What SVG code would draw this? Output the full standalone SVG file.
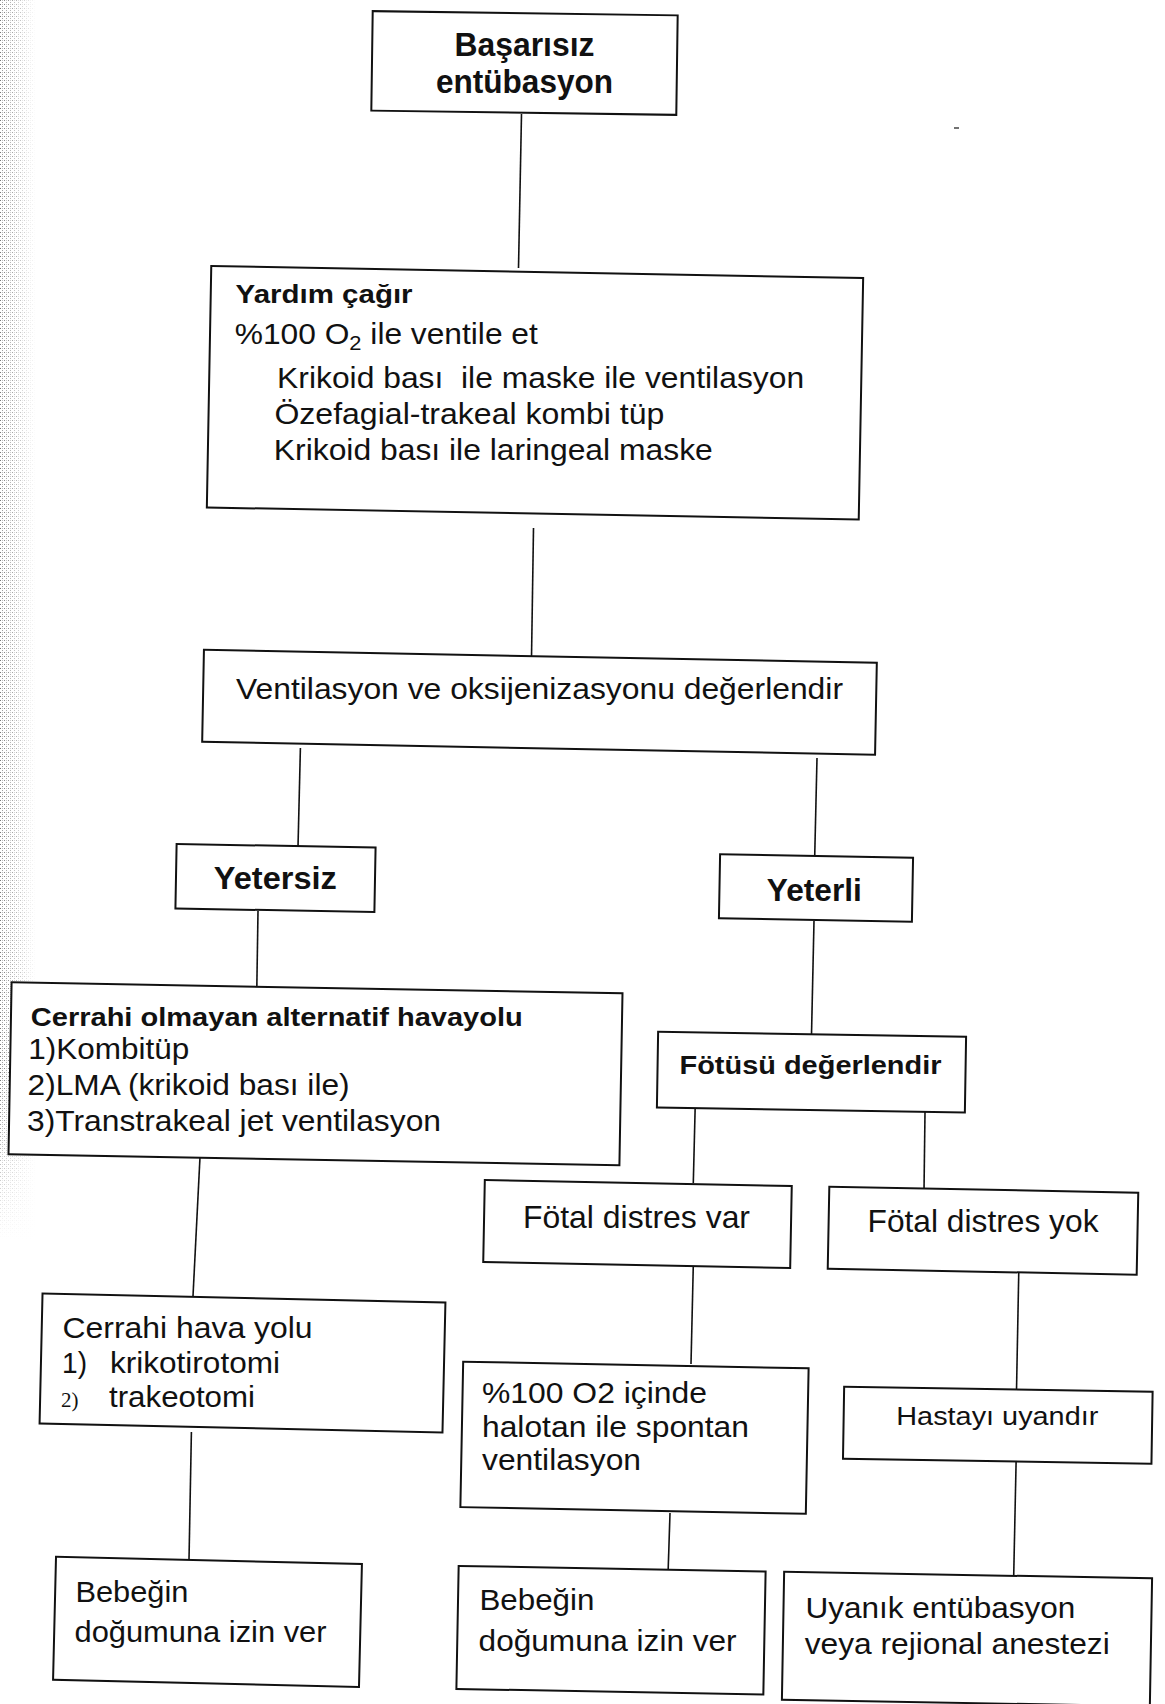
<svg xmlns="http://www.w3.org/2000/svg" width="1165" height="1704" viewBox="0 0 1165 1704">
<style>
.box{fill:#fff;stroke:#111;stroke-width:2}
.t{font-family:"Liberation Sans",Arial,sans-serif;fill:#111}
.b{font-weight:bold}
.s{font-family:"Liberation Serif","Times New Roman",serif;fill:#111}
.c line{stroke:#111;stroke-width:1.6;fill:none}
</style>
<defs>
<pattern id="stip" width="4" height="4" patternUnits="userSpaceOnUse">
<rect x="0" y="0" width="1" height="1" fill="#777"/>
<rect x="2" y="2" width="1" height="1" fill="#999"/>
<rect x="2" y="0" width="1" height="1" fill="#bbb"/>
</pattern>
<linearGradient id="fadeX" x1="0" y1="0" x2="1" y2="0">
<stop offset="0" stop-color="#fff" stop-opacity="0"/>
<stop offset="1" stop-color="#fff" stop-opacity="1"/>
</linearGradient>
<linearGradient id="fadeY" x1="0" y1="0" x2="0" y2="1">
<stop offset="0" stop-color="#fff" stop-opacity="0"/>
<stop offset="1" stop-color="#fff" stop-opacity="1"/>
</linearGradient>
</defs>
<rect width="1165" height="1704" fill="#fff"/>
<g id="scan-edge">
<rect x="0" y="0" width="36" height="1240" fill="url(#stip)"/>
<rect x="0" y="0" width="36" height="1240" fill="url(#fadeX)"/>
<rect x="0" y="1080" width="36" height="160" fill="url(#fadeY)"/>
<line x1="954" y1="128" x2="959" y2="128" stroke="#444" stroke-width="1.5"/>
</g>
<g id="connectors" class="c">
<line x1="521.5" y1="114" x2="518.5" y2="268"/>
<line x1="533.5" y1="528" x2="531.5" y2="658"/>
<line x1="300.4" y1="748" x2="298" y2="847"/>
<line x1="817" y1="758" x2="814.7" y2="857"/>
<line x1="258" y1="911" x2="256.8" y2="989"/>
<line x1="814" y1="921" x2="811.5" y2="1035"/>
<line x1="695.2" y1="1106" x2="693.3" y2="1183"/>
<line x1="925" y1="1112" x2="924" y2="1191"/>
<line x1="200" y1="1157" x2="193" y2="1296"/>
<line x1="693.3" y1="1265" x2="691" y2="1364"/>
<line x1="1018.8" y1="1270" x2="1016.5" y2="1391"/>
<line x1="191.4" y1="1432" x2="189" y2="1560"/>
<line x1="670" y1="1513" x2="668.2" y2="1569"/>
<line x1="1016.2" y1="1457" x2="1013.7" y2="1576"/>
</g>
<g id="n-basarisiz">
<rect class="box" x="372" y="13.25" width="305" height="99.5" transform="rotate(0.8 524.5 63)"/>
<text class="t b" x="524.5" y="56" font-size="32.5" text-anchor="middle" textLength="140" lengthAdjust="spacingAndGlyphs">Başarısız</text>
<text class="t b" x="524.5" y="93" font-size="32.5" text-anchor="middle" textLength="177" lengthAdjust="spacingAndGlyphs">entübasyon</text>
</g>
<g id="n-yardim">
<rect class="box" x="209" y="272" width="652" height="241.5" transform="rotate(1.05 535 392.75)"/>
<text class="t b" x="235.6" y="303.1" font-size="26" textLength="177" lengthAdjust="spacingAndGlyphs">Yardım çağır</text>
<text class="t" x="234.8" y="344.3" font-size="29" textLength="303" lengthAdjust="spacingAndGlyphs">%100 O<tspan font-size="20" dy="6">2</tspan><tspan dy="-6"> ile ventile et</tspan></text>
<text class="t" x="277.1" y="388.1" font-size="29" textLength="527" lengthAdjust="spacingAndGlyphs">Krikoid bası&#160; ile maske ile ventilasyon</text>
<text class="t" x="274.4" y="423.8" font-size="29" textLength="390" lengthAdjust="spacingAndGlyphs">Özefagial-trakeal kombi tüp</text>
<text class="t" x="273.8" y="460.3" font-size="29" textLength="439" lengthAdjust="spacingAndGlyphs">Krikoid bası ile laringeal maske</text>
</g>
<g id="n-ventilasyon">
<rect class="box" x="203" y="656.25" width="673" height="92" transform="rotate(1.1 539.5 702.25)"/>
<text class="t" x="236" y="699" font-size="30" textLength="607" lengthAdjust="spacingAndGlyphs">Ventilasyon ve oksijenizasyonu değerlendir</text>
</g>
<g id="n-yetersiz">
<rect class="box" x="176" y="845.75" width="199" height="64.5" transform="rotate(1.06 275.5 878)"/>
<text class="t b" x="275.3" y="889" font-size="32" text-anchor="middle" textLength="123" lengthAdjust="spacingAndGlyphs">Yetersiz</text>
</g>
<g id="n-yeterli">
<rect class="box" x="719.5" y="856" width="193" height="64" transform="rotate(1.04 816 888)"/>
<text class="t b" x="814.3" y="901" font-size="32" text-anchor="middle" textLength="95" lengthAdjust="spacingAndGlyphs">Yeterli</text>
</g>
<g id="n-cerrahi-olmayan">
<rect class="box" x="10" y="987.75" width="611" height="172" transform="rotate(1.03 315.5 1073.75)"/>
<text class="t b" x="30.8" y="1026.3" font-size="26" textLength="492" lengthAdjust="spacingAndGlyphs">Cerrahi olmayan alternatif havayolu</text>
<text class="t" x="28.2" y="1058.5" font-size="29" textLength="161" lengthAdjust="spacingAndGlyphs">1)Kombitüp</text>
<text class="t" x="27.6" y="1094.7" font-size="29" textLength="322" lengthAdjust="spacingAndGlyphs">2)LMA (krikoid bası ile)</text>
<text class="t" x="27" y="1130.6" font-size="29" textLength="414" lengthAdjust="spacingAndGlyphs">3)Transtrakeal jet ventilasyon</text>
</g>
<g id="n-fotusu">
<rect class="box" x="657.5" y="1034.2" width="308" height="75.8" transform="rotate(0.93 811.5 1072)"/>
<text class="t b" x="810.5" y="1074" font-size="26" text-anchor="middle" textLength="262" lengthAdjust="spacingAndGlyphs">Fötüsü değerlendir</text>
</g>
<g id="n-distres-var">
<rect class="box" x="484" y="1183" width="307" height="82" transform="rotate(1.1 637.5 1224)"/>
<text class="t" x="636.5" y="1228" font-size="32" text-anchor="middle" textLength="227" lengthAdjust="spacingAndGlyphs">Fötal distres var</text>
</g>
<g id="n-distres-yok">
<rect class="box" x="828.5" y="1189.7" width="309" height="82" transform="rotate(1.1 983 1230.7)"/>
<text class="t" x="983" y="1232" font-size="32" text-anchor="middle" textLength="231" lengthAdjust="spacingAndGlyphs">Fötal distres yok</text>
</g>
<g id="n-cerrahi-hava">
<rect class="box" x="41" y="1298" width="403" height="130" transform="rotate(1.3 242.5 1363)"/>
<text class="t" x="62.5" y="1338.2" font-size="30" textLength="250" lengthAdjust="spacingAndGlyphs">Cerrahi hava yolu</text>
<text class="t" x="62" y="1372.5" font-size="30" textLength="25" lengthAdjust="spacingAndGlyphs">1)</text>
<text class="t" x="110" y="1372.5" font-size="30" textLength="170" lengthAdjust="spacingAndGlyphs">krikotirotomi</text>
<text class="s" x="61" y="1407" font-size="21">2)</text>
<text class="t" x="109" y="1407" font-size="30" textLength="146" lengthAdjust="spacingAndGlyphs">trakeotomi</text>
</g>
<g id="n-halotan">
<rect class="box" x="461.75" y="1364.95" width="345.5" height="145.5" transform="rotate(1.1 634.5 1437.7)"/>
<text class="t" x="482" y="1403.2" font-size="29" textLength="225" lengthAdjust="spacingAndGlyphs">%100 O2 içinde</text>
<text class="t" x="482" y="1437.1" font-size="29" textLength="267" lengthAdjust="spacingAndGlyphs">halotan ile spontan</text>
<text class="t" x="482" y="1470" font-size="29" textLength="159" lengthAdjust="spacingAndGlyphs">ventilasyon</text>
</g>
<g id="n-uyandir">
<rect class="box" x="843.55" y="1389.2" width="308.5" height="72" transform="rotate(0.93 997.8 1425.2)"/>
<text class="t" x="997.3" y="1425" font-size="25" text-anchor="middle" textLength="202" lengthAdjust="spacingAndGlyphs">Hastayı uyandır</text>
</g>
<g id="n-bebek-1">
<rect class="box" x="54.5" y="1560.4" width="306" height="123" transform="rotate(1.37 207.5 1621.9)"/>
<text class="t" x="75.4" y="1601.8" font-size="30" textLength="113" lengthAdjust="spacingAndGlyphs">Bebeğin</text>
<text class="t" x="74.5" y="1641.8" font-size="30" textLength="252" lengthAdjust="spacingAndGlyphs">doğumuna izin ver</text>
</g>
<g id="n-bebek-2">
<rect class="box" x="457.5" y="1568.75" width="307" height="123" transform="rotate(1.06 611 1630.25)"/>
<text class="t" x="479.4" y="1610.1" font-size="30" textLength="115" lengthAdjust="spacingAndGlyphs">Bebeğin</text>
<text class="t" x="478.6" y="1651.4" font-size="30" textLength="258" lengthAdjust="spacingAndGlyphs">doğumuna izin ver</text>
</g>
<g id="n-uyanik">
<rect class="box" x="783" y="1575" width="368" height="128" transform="rotate(1.0 967 1639)"/>
<text class="t" x="805.4" y="1617.5" font-size="30" textLength="270" lengthAdjust="spacingAndGlyphs">Uyanık entübasyon</text>
<text class="t" x="804.7" y="1654.4" font-size="30" textLength="305" lengthAdjust="spacingAndGlyphs">veya rejional anestezi</text>
</g>
</svg>
